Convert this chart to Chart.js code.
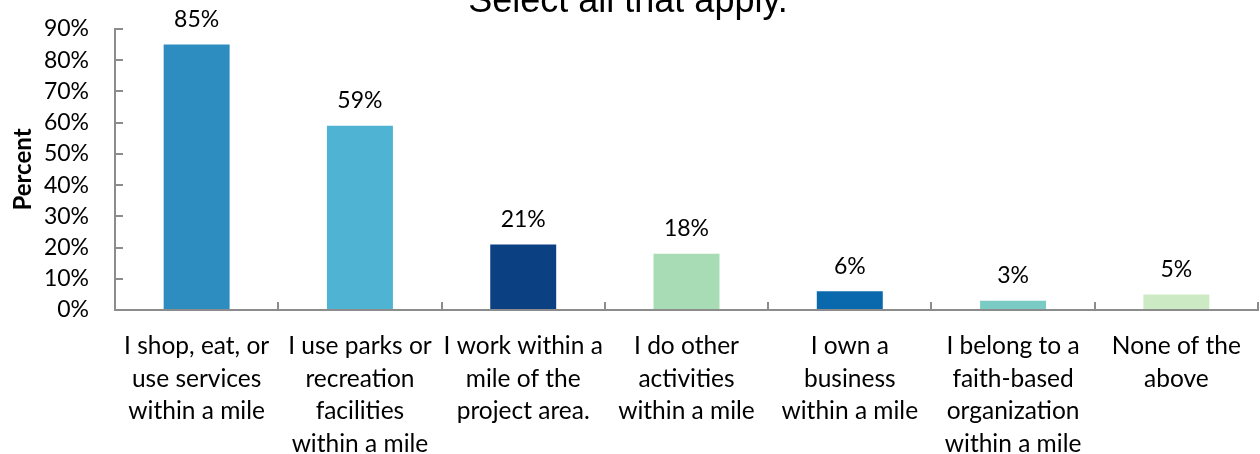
<!DOCTYPE html>
<html>
<head>
<meta charset="utf-8">
<title>Activities within a mile</title>
<script src="https://cdn.jsdelivr.net/npm/chart.js@4.4.1/dist/chart.umd.min.js"></script>
<style>
  html, body { margin: 0; padding: 0; background: #fff; }
  canvas { display: block; }
</style>
</head>
<body>
<canvas id="chart" width="1260" height="454"></canvas>
<script>
// --- data ---
const categories = [
  ['I shop, eat, or', 'use services', 'within a mile'],
  ['I use parks or', 'recreation', 'facilities', 'within a mile'],
  ['I work within a', 'mile of the', 'project area.'],
  ['I do other', 'activities', 'within a mile'],
  ['I own a', 'business', 'within a mile'],
  ['I belong to a', 'faith-based', 'organization', 'within a mile'],
  ['None of the', 'above']
];
const percentValues = [85, 59, 21, 18, 6, 3, 5];
const barColors = ['#2D8DC0', '#4FB3D3', '#0B4083', '#A8DCB5', '#0A68AC', '#7ACBC4', '#CCEBC5'];
const yTickValues = [0, 10, 20, 30, 40, 50, 60, 70, 80, 90];
const titleText = 'Select all that apply.';
const yAxisTitle = 'Percent';

const axisGray = '#8C8C8C';
const catFont = { family: 'Lato', size: 24.5, lineHeight: 1.33 };
const numFont = { family: 'Lato', size: 23 };

// title line sits partly above the canvas edge
const titlePlugin = {
    id: 'cutTitle',
    afterDraw(chart) {
        const ctx = chart.ctx;
        ctx.save();
        ctx.font = '36px "Liberation Sans"';
        ctx.fillStyle = '#000';
        ctx.textAlign = 'center';
        ctx.textBaseline = 'alphabetic';
        ctx.fillText(titleText, 628, 12);
        ctx.restore();
    }
};

// value labels above each bar
const valueLabels = {
    id: 'valueLabels',
    afterDatasetsDraw(chart) {
        const ctx = chart.ctx;
        const meta = chart.getDatasetMeta(0);
        ctx.save();
        ctx.font = `${numFont.size}px ${numFont.family}`;
        ctx.fillStyle = '#000';
        ctx.textAlign = 'center';
        ctx.textBaseline = 'middle';
        meta.data.forEach((bar, i) => {
            ctx.fillText(percentValues[i] + '%', bar.x, bar.y - 25);
        });
        ctx.restore();
    }
};

new Chart(document.getElementById('chart'), {
    type: 'bar',
    data: {
        labels: categories,
        datasets: [{
            data: percentValues,
            backgroundColor: barColors,
            borderWidth: 0,
            categoryPercentage: 1,
            barPercentage: 0.404
        }]
    },
    options: {
        responsive: false,
        animation: false,
        layout: { padding: { top: 29, right: 2, left: 0, bottom: 0 } },
        plugins: {
            legend: { display: false },
            tooltip: { enabled: false }
        },
        scales: {
            x: {
                grid: {
                    drawOnChartArea: false,
                    tickLength: -8,
                    color: axisGray,
                    lineWidth: 2
                },
                border: { color: axisGray, width: 2 },
                ticks: {
                    color: '#000',
                    font: catFont,
                    padding: 28,
                    maxRotation: 0,
                    autoSkip: false
                },
                afterFit(scale) {
                    scale.height = 144;
                    scale.paddingLeft = 0;
                    scale.paddingRight = 0;
                }
            },
            y: {
                min: 0,
                max: 90,
                afterBuildTicks(scale) {
                    scale.ticks = yTickValues.map(v => ({ value: v }));
                },
                grid: {
                    drawOnChartArea: false,
                    tickLength: -8,
                    color: axisGray,
                    lineWidth: 2
                },
                border: { color: axisGray, width: 2 },
                ticks: {
                    color: '#000',
                    font: numFont,
                    padding: 34,
                    autoSkip: false,
                    callback: v => v + '%'
                },
                title: {
                    display: true,
                    text: yAxisTitle,
                    color: '#000',
                    font: { family: 'Lato', size: 24, weight: 'bold' },
                    padding: { top: 9, bottom: 0 }
                },
                afterFit(scale) {
                    scale.width = 115;
                    scale.paddingTop = 0;
                    scale.paddingBottom = 0;
                }
            }
        }
    },
    plugins: [titlePlugin, valueLabels]
});
</script>
</body>
</html>
